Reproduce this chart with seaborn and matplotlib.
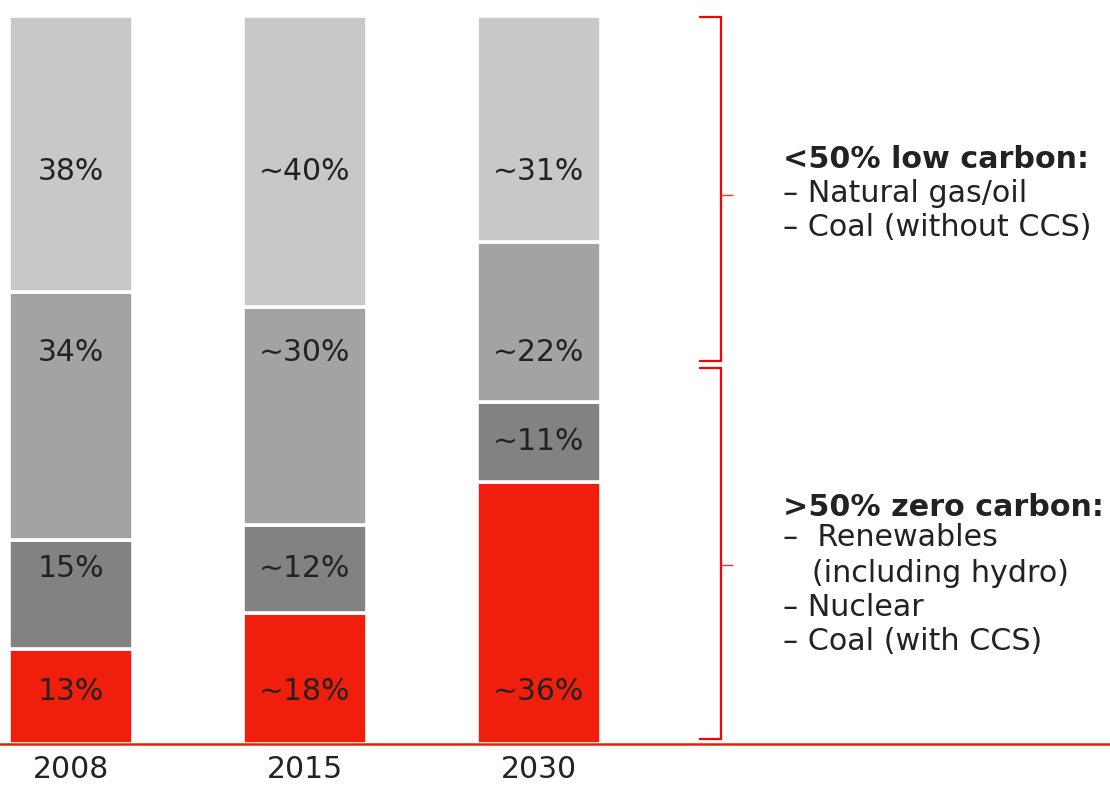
import matplotlib
matplotlib.use("Agg")
import matplotlib.pyplot as plt
import seaborn as sns
import pandas as pd
import numpy as np
from matplotlib.lines import Line2D

# ---- data ----
years = ["2008", "2015", "2030"]
red_share = [13, 18, 36]          # bottom (red)
dark_share = [15, 12, 11]         # dark gray
mid_share = [34, 30, 22]          # medium gray
light_share = [38, 40, 31]        # light gray (top)
red_labels = ["13%", "~18%", "~36%"]
dark_labels = ["15%", "~12%", "~11%"]
mid_labels = ["34%", "~30%", "~22%"]
light_labels = ["38%", "~40%", "~31%"]

layers = [
    (red_share, red_labels, "#F01E0C"),
    (dark_share, dark_labels, "#828282"),
    (mid_share, mid_labels, "#A3A3A3"),
    (light_share, light_labels, "#C8C8C8"),
]
# preferred label rows (data units) for each layer
label_rows = [7.1, 24.0, 53.8, 78.6]

W, H = 1110, 785
DPI = 100
sns.set_theme(style="white")
plt.rcParams["font.family"] = ["DejaVu Sans"]

fig = plt.figure(figsize=(W / DPI, H / DPI), dpi=DPI)
ax_bottom_px, ax_top_px = 743.5, 16.0
ax = fig.add_axes([0, 1 - ax_bottom_px / H, 1, (ax_bottom_px - ax_top_px) / H])

TXT = "#222222"
bottoms = np.zeros(len(years))
for (vals, labs, col), row in zip(layers, label_rows):
    df = pd.DataFrame({"year": years, "share": vals})
    sns.barplot(data=df, x="year", y="share", order=years, color=col,
                width=0.527, bottom=bottoms, edgecolor="white", linewidth=2.6,
                saturation=1, errorbar=None, ax=ax, zorder=2)
    for i, (v, lab) in enumerate(zip(vals, labs)):
        lo, hi = bottoms[i], bottoms[i] + v
        y = row if (lo + 3 < row < hi - 3) else (lo + hi) / 2
        ax.text(i, y, lab, ha="center", va="center", fontsize=21.5, color=TXT, zorder=5)
    bottoms = bottoms + np.array(vals)

px_per_unit = 234.0
center0 = 71.0
ax.set_xlim(-center0 / px_per_unit, (W - center0) / px_per_unit)
ax.set_ylim(0, 100)
ax.set_xlabel("")
ax.set_ylabel("")
ax.set_yticks([])
for s in ax.spines.values():
    s.set_visible(False)
ax.axhline(0, color="#F0190F", lw=1.8, zorder=4, clip_on=False)
ax.tick_params(axis="x", length=0, pad=8, labelsize=21.5, labelcolor=TXT)
ax.set_xticks(range(len(years)))
ax.set_xticklabels(years)
ax.patch.set_alpha(0)

# ---- brackets (pixel coordinates) ----
def px_line(xs, ys, lw=2.0, color="#FF0000"):
    fig.add_artist(Line2D([x / W for x in xs], [1 - y / H for y in ys],
                          transform=fig.transFigure, color=color, lw=lw,
                          solid_joinstyle="miter", solid_capstyle="butt"))

bx = 721
px_line([699, bx, bx, 699], [16.5, 16.5, 361, 361], lw=1.6)
px_line([bx, 733], [195, 195], lw=1.0, color="#F03A3A")
px_line([699, bx, bx, 699], [368, 368, 739, 739], lw=1.6)
px_line([bx, 733], [565, 565], lw=1.0, color="#F03A3A")

# ---- annotation text ----
def px_text(x, y, s, **kw):
    fig.text(x / W, 1 - y / H, s, ha="left", va="center", color=TXT, fontsize=21.7, **kw)

px_text(783, 160, "<50% low carbon:", fontweight="bold")
px_text(783, 193, "– Natural gas/oil")
px_text(783, 227, "– Coal (without CCS)")

px_text(783, 507, ">50% zero carbon:", fontweight="bold")
px_text(783, 538, "–  Renewables")
px_text(783, 573, "   (including hydro)")
px_text(783, 607, "– Nuclear")
px_text(783, 642, "– Coal (with CCS)")

fig.savefig("out.png", dpi=DPI, facecolor="white")
